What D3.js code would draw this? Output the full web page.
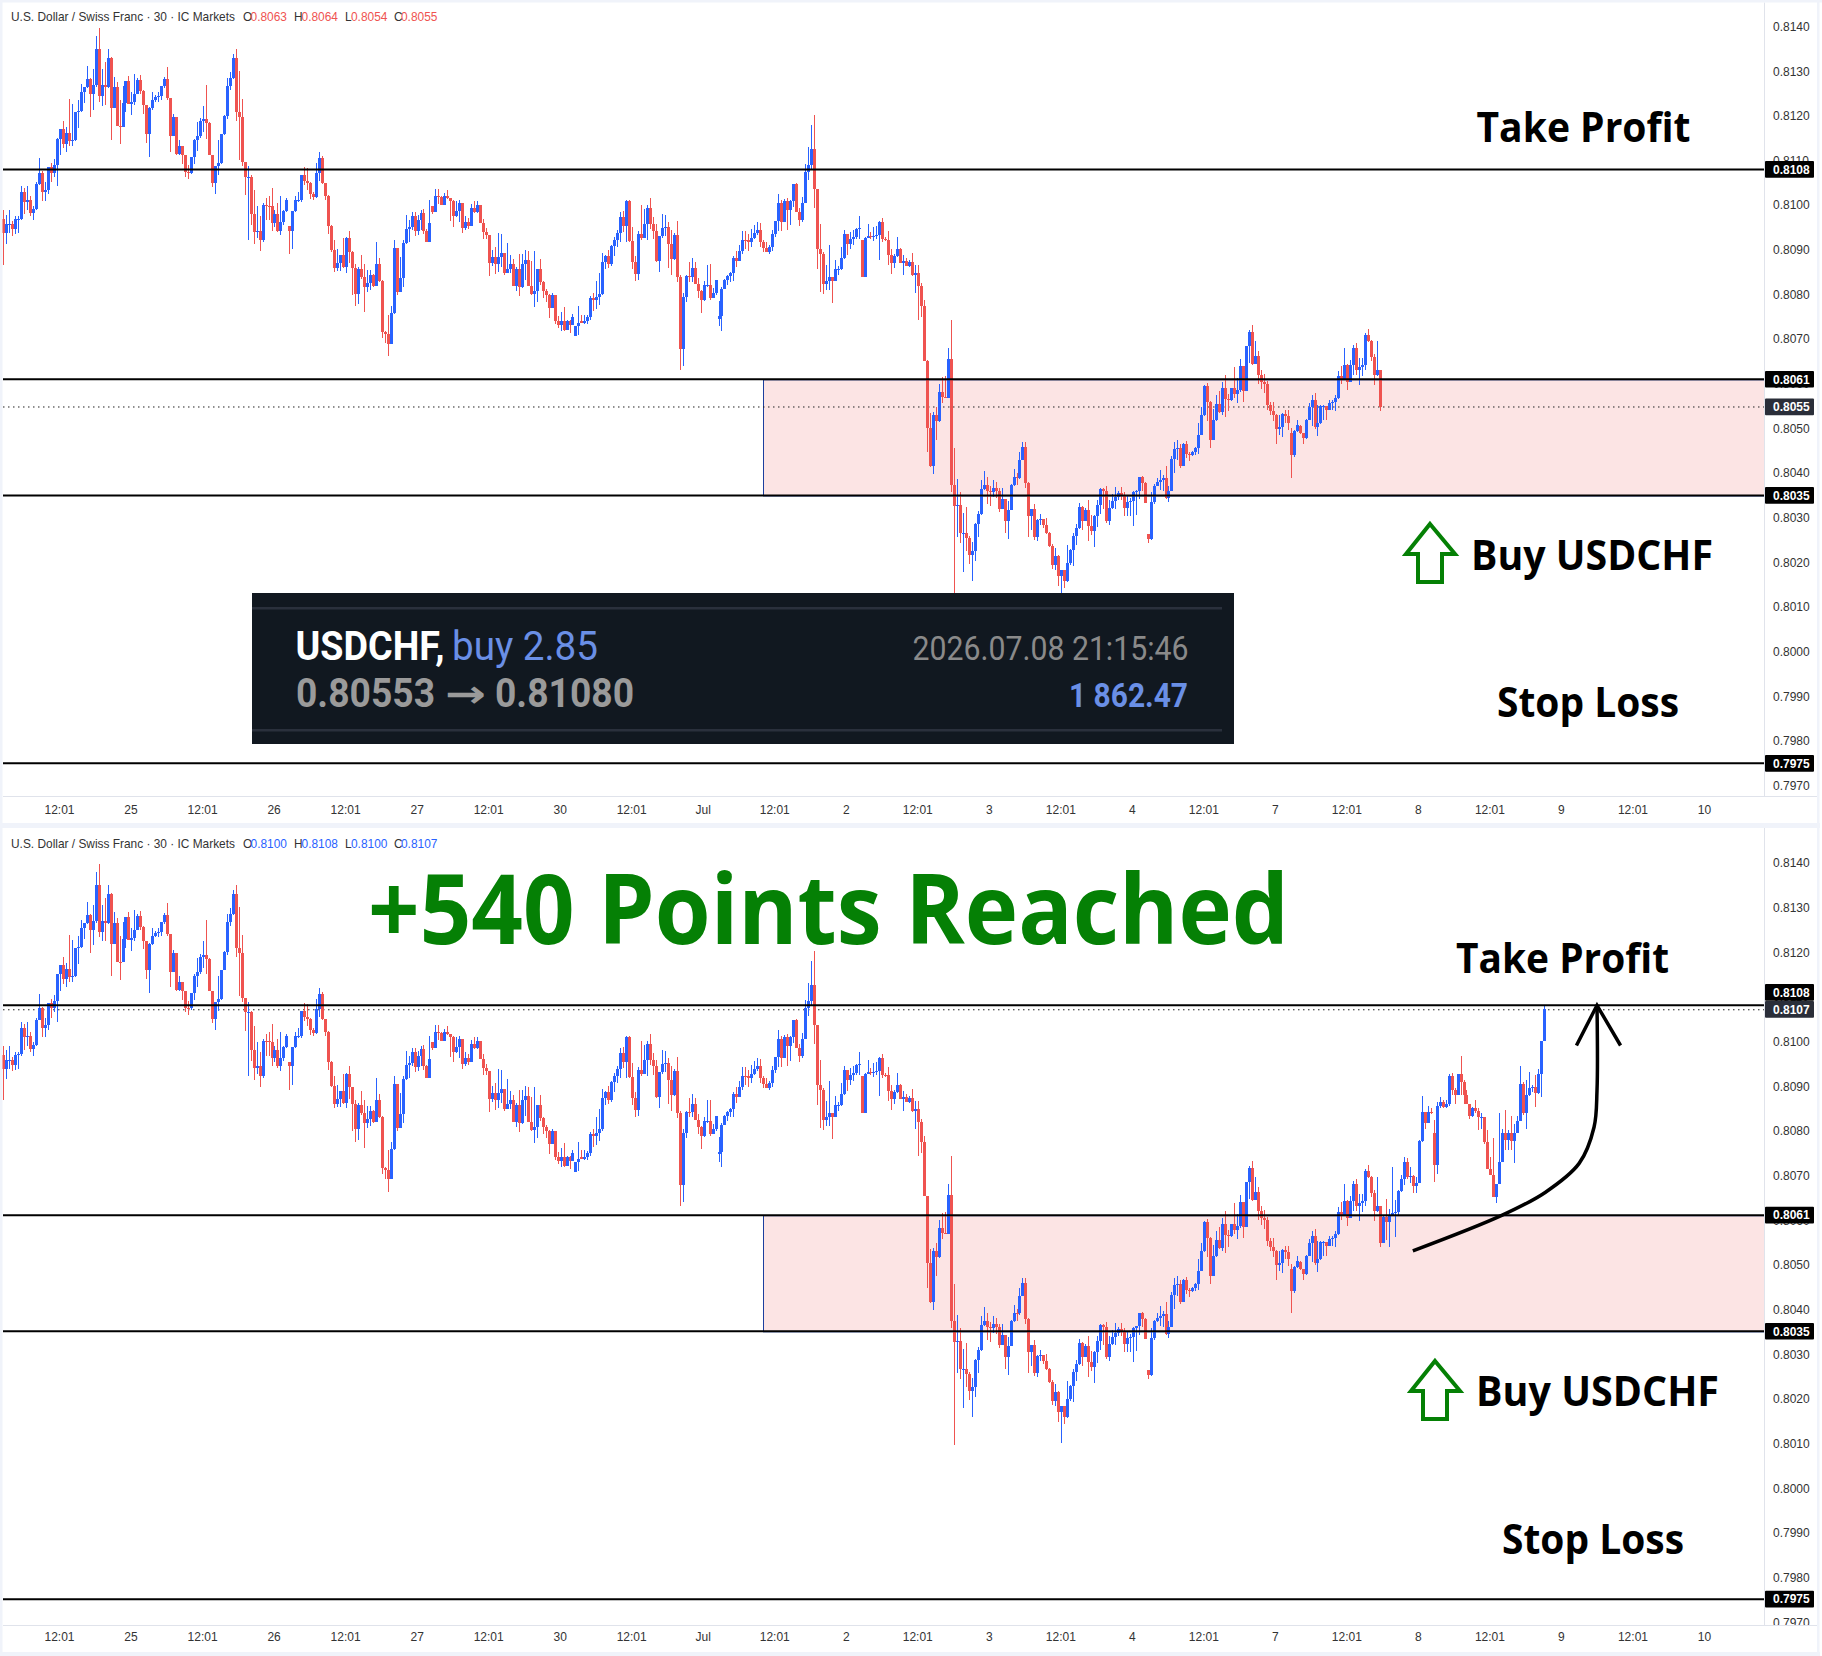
<!DOCTYPE html>
<html lang="en">
<head>
    <meta charset="UTF-8">
    <title>USDCHF - Take Profit reached</title>
    <script src="https://d3js.org/d3.v7.min.js"></script>
    <style>
        html, body {
            margin: 0;
            background: #fff;
        }
        svg {
            display: block;
        }
        .axis text {
            font-family: "Liberation Sans", Arial, sans-serif;
            font-size: 12px;
            fill: #333;
        }
        .big-label {
            font-family: "Open Sans", sans-serif;
            font-weight: 700;
            fill: #000;
        }
        .legend {
            font-family: "Liberation Sans", Arial, sans-serif;
            font-size: 11.9px;
        }
    </style>
</head>
<body>
    <svg id="chart" width="1822" height="1656"></svg>

    <script>
        // 30 min candles, prices x 10000: [close, high, low] and an open only where it
        // does not start at the previous close
        const barsA = [
            [8093.8,8099.0,8086.7,8096.9],[8095.8,8097.9,8091.4],[8095.8,8098.8,8093.8],[8094.7,8096.5,8093.2],[8096.9,8097.5,8093.5],[8097.0,8097.5,8093.8],
            [8103.0,8104.3,8096.6],[8100.8,8103.9,8098.1],[8101.1,8104.2,8098.8],[8098.2,8102.1,8097.5],[8099.1,8099.7,8096.7],[8104.8,8105.1,8098.8],
            [8107.3,8110.6,8104.6],[8102.9,8107.6,8101.0],[8103.5,8105.1,8101.0],[8108.6,8108.6,8102.5],[8107.3,8109.4,8105.2],[8109.0,8110.3,8106.4],
            [8114.9,8115.0,8104.3],[8117.1,8117.1,8111.3],[8113.8,8118.9,8112.8],[8116.2,8117.4,8112.0],[8114.3,8123.8,8113.3],[8114.6,8122.7,8113.3],
            [8120.9,8120.9,8114.3],[8121.1,8123.6,8117.3],[8125.4,8127.2,8120.9],[8126.4,8126.4,8122.9],[8128.2,8131.2,8126.2],[8124.9,8128.4,8119.8],
            [8126.9,8130.5,8121.4],[8135.0,8137.9,8126.4],[8124.5,8139.6,8123.2],[8126.9,8130.5,8122.3],[8126.4,8132.1,8122.4],[8133.0,8135.0,8126.2],
            [8121.8,8133.2,8114.6],[8126.5,8128.8,8122.0],[8117.8,8127.6,8117.8],[8117.6,8123.6,8113.7],[8122.9,8126.7,8117.6],[8127.8,8127.8,8120.9],
            [8122.7,8129.0,8122.7],[8123.1,8125.4,8120.2],[8124.9,8129.4,8122.5],[8128.1,8128.5,8124.9],[8125.6,8129.2,8124.9],[8122.5,8125.8,8120.5],
            [8116.0,8121.6,8114.0],[8121.8,8122.0,8110.8],[8123.6,8125.4,8121.4],[8124.3,8124.7,8123.2],[8124.5,8125.4,8123.2],[8126.7,8126.7,8123.6],
            [8128.3,8128.7,8126.3],[8124.0,8131.0,8123.6],[8115.5,8124.0,8112.0],[8119.7,8120.4,8115.4],[8111.5,8119.8,8111.3],[8113.3,8114.6,8111.3],
            [8111.3,8113.3,8109.3],[8107.5,8111.3,8106.4],[8107.3,8109.0,8105.9],[8110.8,8110.8,8107.0],[8114.6,8114.9,8109.3],[8115.4,8118.7,8112.2],
            [8118.9,8119.5,8115.0],[8119.3,8122.3,8116.4],[8118.3,8127.0,8114.9],[8111.3,8118.6,8111.3],[8105.0,8111.3,8104.1],[8108.8,8108.8,8102.4],
            [8109.5,8114.6,8106.8],[8116.0,8116.0,8109.3],[8120.0,8120.2,8115.8],[8126.7,8128.4,8119.3]
        ];
        const barsB = [
            [8128.4,8129.7,8125.8],[8132.9,8133.9,8128.2],[8120.9,8135.0,8118.9],[8119.8,8130.1,8110.0],[8109.7,8123.8,8108.8],[8106.4,8109.7,8102.3],
            [8106.4,8108.7,8092.2],[8098.1,8106.8,8095.6],[8093.9,8103.4,8091.3],[8094.3,8099.8,8092.6],[8092.2,8097.5,8089.8],[8100.1,8100.4,8091.7],
            [8099.9,8101.6,8096.7],[8099.8,8102.1,8096.7],[8096.1,8103.8,8094.3],[8098.1,8099.0,8095.2],[8094.3,8100.4,8093.9],[8096.2,8102.1,8093.4],
            [8098.7,8099.0,8095.6],[8101.2,8101.6,8098.4],[8094.3,8095.4,8089.1,8095.4],[8098.7,8098.7,8090.2],[8101.2,8102.1,8098.4],[8101.2,8103.0,8100.6],
            [8106.8,8106.8,8100.6],[8105.3,8108.6,8104.5],[8104.9,8108.4,8103.4],[8102.5,8105.2,8101.4],[8101.9,8103.0,8101.2],[8107.2,8109.5,8101.5],
            [8110.6,8111.9,8105.3],[8104.9,8111.0,8104.8],[8102.1,8105.0,8101.2],[8095.4,8102.3,8093.6],[8090.0,8095.6,8089.6],[8086.0,8092.2,8085.1],
            [8087.0,8090.2,8085.2],[8088.9,8088.9,8085.2],[8086.2,8092.7,8086.0],[8092.7,8092.9,8084.9],[8089.6,8094.3,8087.0],[8086.0,8089.8,8079.9],
            [8080.2,8086.9,8077.5],[8085.7,8086.2,8077.9],[8083.9,8088.9,8083.5],[8081.7,8086.9,8076.1],[8082.6,8085.5,8080.5],[8084.4,8085.5,8080.9],
            [8081.9,8084.6,8081.7],[8086.9,8091.8,8081.9],[8083.1,8088.2,8082.7],[8071.6,8083.3,8070.3],[8071.1,8071.9,8069.2],[8069.0,8075.5,8066.3],
            [8075.8,8077.5,8069.0],[8090.4,8092.2,8075.7],[8080.6,8090.4,8079.9],[8083.7,8088.4,8080.8],[8091.6,8092.2,8081.6],[8094.7,8097.8,8091.3],
            [8095.1,8096.7,8091.8],[8097.6,8098.4,8094.5],[8094.2,8098.4,8093.1],[8096.7,8097.8,8093.4],[8098.3,8099.0,8094.5],[8094.3,8099.2,8093.6],
            [8091.8,8094.7,8091.8],[8096.0,8101.2,8091.8],[8098.4,8099.8,8098.1,8099.8],[8102.1,8103.7,8098.5],[8101.9,8103.6,8100.3],[8100.1,8102.1,8100.1],
            [8102.1,8102.7,8100.3],[8101.5,8103.4,8101.3],[8100.9,8101.6,8096.4],[8097.6,8101.2,8095.2],[8098.7,8101.0,8097.3],[8100.5,8101.2,8096.3]
        ];
        const barsC = [
            [8094.9,8100.5,8093.8],[8096.3,8097.5,8094.4],[8095.4,8097.2,8094.6],[8099.3,8100.2,8095.4],[8098.4,8100.9,8098.3],[8100.0,8100.9,8098.3],
            [8096.0,8100.0,8096.0],[8094.0,8097.0,8092.4],[8093.3,8094.9,8092.4],[8087.0,8093.4,8084.1],[8088.3,8089.9,8086.4],[8086.8,8090.7,8084.6],
            [8088.3,8093.7,8085.0],[8089.2,8093.5,8086.1],[8084.8,8089.0,8084.3],[8085.8,8091.5,8084.8],[8086.8,8088.8,8084.8],[8081.9,8087.9,8081.9],
            [8085.7,8086.1,8080.8],[8081.7,8089.0,8079.6],[8086.8,8089.0,8081.4],[8087.7,8089.9,8083.2],[8081.9,8089.7,8081.9],[8080.1,8087.5,8079.9],
            [8080.7,8089.7,8077.2],[8085.7,8085.7,8078.3],[8082.8,8087.9,8082.1],[8080.8,8083.0,8079.2],[8079.9,8081.2,8078.3],[8077.0,8080.1,8074.7],
            [8079.9,8080.3,8077.0],[8074.1,8079.9,8073.4],[8073.1,8075.2,8072.5],[8074.0,8076.1,8071.8],[8072.0,8077.2,8071.8],[8074.0,8074.3,8072.0],
            [8073.1,8074.3,8071.4],[8074.9,8075.6,8073.1],[8072.9,8072.9,8070.7,8070.7],[8073.6,8077.4,8070.9],[8073.6,8075.5,8073.5,8074.0],[8074.0,8075.5,8073.4],
            [8075.0,8075.4,8073.4],[8079.2,8079.6,8074.3],[8078.7,8080.4,8076.3],[8079.4,8083.0,8076.7],[8080.2,8084.7,8077.6],[8087.2,8089.3,8079.9],
            [8088.6,8088.8,8085.7],[8086.8,8089.9,8085.9],[8090.8,8091.1,8086.4],[8092.2,8092.9,8088.6],[8093.7,8094.4,8090.6],[8097.3,8098.4,8091.7],
            [8095.3,8098.7,8094.0],[8100.9,8101.1,8091.7],[8091.9,8101.1,8091.7],[8087.2,8095.1,8085.7],[8084.6,8088.6,8083.0],[8093.5,8094.2,8083.2],
            [8092.6,8100.0,8092.2],[8095.8,8099.1,8092.6],[8099.3,8100.0,8092.2],[8095.8,8101.6,8094.6],[8094.3,8097.3,8092.4],[8087.5,8095.8,8087.2],
            [8093.1,8093.1,8085.0],[8094.9,8098.0,8092.6],[8095.1,8097.8,8093.1],[8091.3,8096.2,8085.9],[8087.9,8094.4,8084.3],[8093.3,8093.7,8087.7],
            [8083.9,8096.4,8082.8],[8067.8,8084.3,8063.1],[8079.4,8080.3,8064.0],[8084.1,8084.3,8078.3]
        ];
        const barsD = [
            [8084.0,8087.3,8082.9],[8085.9,8088.1,8082.9],[8082.4,8087.3,8082.4],[8080.8,8083.6,8079.2],[8078.8,8080.9,8075.8],[8082.1,8083.0,8078.5],
            [8082.1,8086.7,8081.7],[8079.1,8086.8,8078.8],[8080.3,8081.4,8079.1],[8083.2,8083.2,8079.9],[8075.1,8078.5,8073.0,8074.6],[8081.2,8081.7,8071.8],
            [8083.2,8083.5,8081.5],[8084.1,8084.4,8082.1],[8084.8,8085.1,8082.9],[8088.1,8088.5,8083.0],[8087.5,8089.7,8086.1],[8089.7,8091.1,8087.6],
            [8092.2,8094.2,8089.1],[8092.1,8094.1,8090.2],[8091.7,8093.5,8089.7],[8092.6,8094.6,8090.6],[8093.7,8095.5,8092.4],[8094.4,8096.2,8093.3],
            [8091.7,8096.0,8090.6],[8090.4,8092.2,8089.5],[8089.5,8091.7,8089.5],[8090.6,8091.1,8089.1],[8093.5,8094.4,8089.7],[8096.4,8096.4,8092.9],
            [8100.5,8102.5,8094.2],[8096.2,8101.1,8094.2],[8100.9,8101.4,8096.4],[8098.9,8101.5,8094.4],[8100.9,8101.1,8095.5],[8104.7,8104.7,8099.6],
            [8098.5,8105.0,8098.5],[8096.7,8099.3,8095.3],[8100.5,8101.8,8096.2],[8107.4,8109.2,8100.7],[8109.0,8113.0,8105.6],[8112.6,8117.9,8107.9],
            [8103.6,8120.2,8099.3],[8090.2,8103.6,8085.7],[8089.1,8095.8,8080.5],[8082.3,8089.5,8080.1],[8083.0,8086.6,8081.0],[8083.9,8091.1,8081.0],
            [8083.0,8083.9,8078.1],[8085.7,8087.7,8083.2],[8085.7,8086.4,8084.4],[8088.2,8090.6,8085.5],[8093.5,8094.4,8087.9],[8091.3,8093.5,8088.8],
            [8092.4,8094.0,8090.2],[8092.9,8094.4,8091.1],[8094.6,8094.9,8092.4],[8094.8,8097.6,8092.4],[8083.9,8092.2,8083.9,8092.2],[8092.6,8092.9,8083.8],
            [8093.0,8095.8,8092.6],[8092.9,8094.0,8092.4],[8093.1,8095.1,8092.0],[8093.3,8095.3,8092.4],[8096.2,8096.4,8087.7],[8092.4,8097.1,8091.7],
            [8092.3,8092.9,8092.0],[8088.8,8094.2,8086.6],[8087.0,8090.2,8084.6],[8088.6,8089.1,8086.0],[8090.2,8092.9,8088.4],[8087.0,8090.4,8087.0],
            [8087.5,8088.8,8084.4],[8086.4,8088.2,8086.4],[8087.3,8087.7,8086.1],[8084.4,8089.3,8084.1],[8084.8,8086.6,8080.3],[8081.9,8086.6,8074.3]
        ];
        const barsE = [
            [8077.4,8082.5,8075.0],[8065.2,8078.8,8065.2],[8050.2,8065.3,8044.8],[8041.6,8053.4,8041.4],[8053.0,8053.7,8039.8],[8051.7,8054.8,8047.4],
            [8058.1,8059.9,8051.4],[8057.0,8061.5,8055.7],[8056.9,8061.7,8056.9],[8065.5,8068.0,8056.9],[8037.3,8074.3,8035.8],[8032.6,8045.6,8009.6],
            [8032.9,8038.7,8025.7],[8026.6,8035.8,8024.4],[8026.6,8031.1,8017.9],[8025.5,8032.4,8022.6],[8021.7,8025.9,8019.7],[8022.6,8024.6,8015.8],
            [8028.6,8028.8,8020.3],[8030.8,8031.5,8025.7],[8036.4,8038.5,8030.6],[8037.3,8040.5,8036.2],[8036.0,8039.1,8033.1],[8035.8,8037.1,8032.6],
            [8036.7,8038.5,8034.6],[8036.0,8038.0,8034.4],[8032.0,8036.7,8031.3],[8034.2,8036.7,8032.0],[8029.3,8032.4,8026.6],[8031.7,8033.8,8025.2],
            [8037.3,8037.6,8031.7],[8039.1,8040.9,8037.1],[8039.0,8040.0,8037.3],[8042.9,8044.7,8038.7],[8045.8,8047.0,8042.9],[8037.8,8047.0,8036.7],
            [8030.4,8038.0,8025.7],[8032.0,8032.0,8027.3],[8025.7,8033.1,8025.0],[8029.5,8029.7,8024.8],[8029.7,8030.8,8028.4],[8028.4,8029.7,8027.7],
            [8026.6,8030.0,8026.4],[8023.7,8026.8,8023.5],[8019.4,8024.1,8018.5],[8021.4,8023.2,8018.3],[8017.0,8021.7,8014.7],[8018.3,8018.3,8010.1],
            [8015.8,8018.3,8014.3],[8019.9,8023.9,8015.6],[8022.8,8023.0,8019.4],[8025.9,8026.6,8019.2],[8027.7,8028.6,8023.9],[8032.4,8033.3,8027.5],
            [8029.3,8032.6,8027.3],[8031.7,8032.2,8029.3],[8028.2,8034.0,8024.8],[8027.0,8030.6,8026.1],[8030.4,8030.6,8023.5],[8032.9,8034.0,8027.9],
            [8036.4,8036.7,8030.8],[8036.0,8036.7,8032.0],[8029.3,8037.1,8028.8],[8032.2,8034.0,8028.4],[8033.8,8035.3,8032.0],[8034.6,8036.9,8032.0],
            [8035.5,8036.0,8034.0],[8034.9,8036.9,8034.0],[8032.2,8035.8,8030.4],[8033.5,8034.9,8030.4],[8033.7,8034.4,8030.4],[8035.8,8036.0,8028.2],
            [8036.1,8036.2,8030.6],[8039.1,8039.1,8034.2],[8037.8,8039.3,8036.0],[8033.3,8038.0,8033.3],[8025.3,8026.4,8024.4,8026.4]
        ];
        const barsF = [
            [8033.6,8035.8,8025.1],[8037.2,8037.6,8033.1],[8038.0,8039.0,8037.0],[8038.5,8040.7,8036.3],[8038.9,8039.6,8036.0],[8034.5,8041.6,8034.2],
            [8036.0,8037.2,8033.6],[8043.2,8043.9,8036.0],[8045.4,8047.0,8040.1],[8045.6,8047.4,8043.0],[8041.6,8046.5,8041.2],[8046.5,8046.8,8041.6],
            [8044.3,8047.2,8043.4],[8044.1,8044.8,8042.7],[8044.8,8045.0,8043.9],[8045.6,8045.9,8044.1],[8048.6,8051.3,8044.3],[8053.0,8054.8,8048.6],
            [8059.5,8059.8,8052.8],[8055.9,8060.2,8051.7],[8047.4,8056.2,8045.6],[8051.9,8054.4,8047.4],[8055.5,8057.5,8051.7],[8053.7,8058.4,8053.5],
            [8059.1,8060.4,8053.0],[8056.6,8062.0,8052.6],[8056.4,8057.7,8053.9],[8059.1,8059.1,8056.2],[8057.7,8063.8,8056.8],[8058.6,8061.3,8055.7],
            [8064.0,8065.6,8058.2],[8058.4,8063.8,8056.0],[8068.5,8068.5,8058.4],[8071.6,8072.1,8064.7],[8064.5,8073.2,8064.2],[8066.2,8069.6,8064.5],
            [8062.0,8067.4,8060.0],[8060.4,8063.1,8058.8],[8060.0,8062.2,8058.0],[8055.3,8060.6,8054.2],[8053.9,8055.9,8052.9],[8053.0,8055.9,8051.7],
            [8049.9,8053.3,8046.5],[8050.4,8053.0,8048.6],[8053.3,8053.5,8048.1],[8052.8,8054.2,8051.2],[8051.2,8054.2,8049.7],[8044.1,8050.1,8039.0,8049.0],
            [8049.5,8049.7,8043.6],[8050.8,8051.9,8049.2],[8049.0,8050.8,8048.8,8050.6],[8047.9,8049.0,8046.5],[8051.9,8052.1,8047.7],[8054.8,8055.7,8051.9],
            [8056.4,8057.5,8050.6],[8050.4,8058.0,8049.9],[8051.2,8055.3,8048.3],[8055.0,8055.3,8051.0],[8055.0,8055.3,8051.9],[8054.2,8055.0,8051.9],
            [8055.7,8056.4,8054.2],[8056.0,8056.4,8054.2],[8056.8,8057.5,8053.9],[8061.8,8062.9,8056.6],[8060.9,8064.0,8060.0],[8064.2,8068.0,8060.9],
            [8060.4,8064.5,8058.6],[8064.2,8065.3,8060.4],[8068.0,8068.7,8062.0],[8063.1,8069.2,8062.0],[8063.8,8065.8,8059.8],[8064.2,8065.8,8061.8],
            [8070.9,8071.4,8063.1],[8069.6,8072.3,8069.4],[8066.0,8069.8,8065.1],[8062.0,8066.7,8059.8],[8063.1,8069.6,8061.8],[8054.8,8062.9,8053.9]
        ];
        // only in the lower panel
        const barsG = [
            [8060.6,8060.8,8054.7],[8059.5,8064.6,8055.4],[8060.8,8062.5,8053.9],[8061.5,8071.8,8061.0],[8061.7,8064.4,8056.2],[8066.4,8066.6,8061.0],
            [8069.0,8070.0,8066.2],[8072.9,8074.1,8067.7],[8069.6,8073.8,8069.2],[8069.7,8071.8,8068.1],[8067.6,8069.9,8065.9],[8068.2,8069.6,8065.9],
            [8077.6,8077.8,8068.1],[8084.1,8087.6,8077.4],[8081.7,8084.1,8080.2],[8084.2,8085.4,8081.9],[8084.1,8084.9,8083.6],[8072.2,8082.4,8068.5,8079.5],
            [8085.4,8086.4,8070.3],[8086.4,8087.5,8085.1],[8085.2,8086.9,8084.9],[8085.8,8086.7,8085.1],[8092.1,8092.6,8085.4],[8089.0,8092.9,8087.9],
            [8087.9,8089.5,8085.8],[8092.6,8092.6,8087.9],[8090.8,8096.6,8087.9],[8087.9,8091.2,8086.0],[8085.8,8089.1,8085.8],[8083.2,8085.8,8082.6],
            [8084.9,8085.2,8082.9],[8084.4,8086.9,8083.8],[8082.9,8084.9,8080.0],[8083.0,8083.8,8080.4],[8077.4,8083.0,8076.9],[8071.4,8080.0,8071.4],
            [8070.1,8074.1,8070.0],[8065.1,8078.2,8065.1],[8067.9,8068.0,8063.8],[8072.9,8083.8,8067.9],[8079.5,8080.4,8072.9],[8077.9,8084.5,8075.5],
            [8079.5,8080.0,8075.5],[8077.6,8083.2,8075.5],[8079.5,8081.5,8072.7],[8082.0,8083.2,8079.3],[8090.3,8094.3,8082.0],[8083.9,8090.8,8083.4],
            [8087.9,8091.2,8080.3],[8089.5,8093.1,8087.7],[8089.6,8090.1,8088.6],[8088.4,8092.3,8085.2],[8092.6,8093.7,8088.1],[8099.9,8099.9,8087.5],
            [8107.1,8108.0,8099.9]
        ];

        const priceTicks = [8140, 8130, 8120, 8110, 8100, 8090, 8080, 8070, 8060, 8050, 8040, 8030, 8020, 8010, 8000, 7990, 7980, 7970];
        const timeLabels = ["12:01", "25", "12:01", "26", "12:01", "27", "12:01", "30", "12:01", "Jul", "12:01", "2",
                            "12:01", "3", "12:01", "4", "12:01", "7", "12:01", "8", "12:01", "9", "12:01", "10"];
        // bar number of every time label, one label per 24 bars
        const timeBars = timeLabels.map((d, i) => 19.7 + 24 * i);
        const levels = [8108, 8061, 8035, 7975];

        const upperBars = barsA.concat(barsB, barsC, barsD, barsE, barsF);
        const lowerBars = upperBars.concat(barsG);

        const headerLetters = ["O", "H", "L", "C"];
        const headerUpper = ["0.8063", "0.8064", "0.8054", "0.8055"];
        const headerLower = ["0.8100", "0.8108", "0.8100", "0.8107"];

        // curved arrow in the lower panel: bar number, price
        const arrowCurve = [[474, 8053.0], [504, 8061.0], [518.4, 8066.1], [529.8, 8072.6], [534.8, 8080.7], [535.8, 8088.9], [535.8, 8108]];
        const arrowHead = [[528.9, 8099], [535.8, 8108], [543.7, 8099]];

        const blue = "#2962ff",
              red = "#ef5350",
              frame = "#f0f3fa",
              axisLine = "#e0e3eb",
              black = "#000",
              green = "#058005";

        const axisX = 1765,
              left = 3,
              right = 1817;

        const svg = d3.select("#chart");

        svg.append("rect").attr("width", 1822).attr("height", 1656).attr("fill", "#fff");

        const x = d3.scaleLinear()
            .domain([1, 518])
            .range([3.3, 3.3 + 2.98 * 517]);

        function drawPanel(panel) {
            const y = d3.scaleLinear()
                .domain([8140, 7970])
                .range([panel.top, panel.top + 759.2]);

            const g = svg.append("g");

            // zone
            g.append("rect")
                .attr("x", 763.5)
                .attr("y", y(8061) + 0.5)
                .attr("width", axisX - 763.5)
                .attr("height", y(8035) - y(8061))
                .attr("fill", "#fce4e4")
                .attr("stroke", "#1c3f9e")
                .attr("stroke-width", 1);

            g.append("line")
                .attr("x1", left).attr("x2", axisX)
                .attr("y1", y(panel.current)).attr("y2", y(panel.current))
                .attr("stroke", "#222")
                .attr("stroke-width", 1)
                .attr("stroke-dasharray", "1.5 3.5");

            // candles
            let prevClose = null;
            const candles = panel.bars.map(d => {
                const open = d[3] !== undefined ? d[3] : prevClose;
                prevClose = d[0];
                return {open: open, close: d[0], high: d[1], low: d[2]};
            });

            const candle = g.selectAll(".candle")
                .data(candles)
                .enter()
                .append("g")
                .attr("class", "candle")
                .attr("fill", d => d.close >= d.open ? blue : red)
                .attr("shape-rendering", "crispEdges");

            candle.append("rect")
                .attr("x", (d, i) => Math.round(x(i + 1)))
                .attr("y", d => y(d.high))
                .attr("width", 1)
                .attr("height", d => Math.max(1, y(d.low) - y(d.high)));

            candle.append("rect")
                .attr("x", (d, i) => Math.round(x(i + 1)) - 1)
                .attr("y", d => y(Math.max(d.open, d.close)))
                .attr("width", 3)
                .attr("height", d => Math.max(1, Math.abs(y(d.open) - y(d.close))));

            g.selectAll(".level")
                .data(levels)
                .enter()
                .append("line")
                .attr("class", "level")
                .attr("x1", left).attr("x2", axisX)
                .attr("y1", d => y(d)).attr("y2", d => y(d))
                .attr("stroke", black)
                .attr("stroke-width", 2);

            // right price axis
            g.append("rect")
                .attr("x", axisX)
                .attr("y", panel.frameTop)
                .attr("width", right - axisX)
                .attr("height", panel.timeY - panel.frameTop)
                .attr("fill", "#fff");
            g.append("line")
                .attr("x1", axisX - 0.5).attr("x2", axisX - 0.5)
                .attr("y1", panel.frameTop).attr("y2", panel.timeY + 27)
                .attr("stroke", axisLine);

            g.append("g")
                .attr("class", "axis")
                .attr("transform", `translate(${axisX + 8},${panel.tickShift})`)
                .call(d3.axisRight(y)
                    .tickValues(priceTicks)
                    .tickSize(0)
                    .tickPadding(0)
                    .tickFormat(d => (d / 10000).toFixed(4)))
                .select(".domain").remove();

            // time axis
            g.append("rect").attr("x", left).attr("y", panel.timeY).attr("width", right - left).attr("height", 27).attr("fill", "#fff");
            g.append("line")
                .attr("x1", left).attr("x2", right)
                .attr("y1", panel.timeY + 0.5).attr("y2", panel.timeY + 0.5)
                .attr("stroke", axisLine);

            g.append("g")
                .attr("class", "axis")
                .attr("transform", `translate(0,${panel.timeY + panel.timePad})`)
                .call(d3.axisBottom(x)
                    .tickValues(timeBars)
                    .tickSize(0)
                    .tickPadding(0)
                    .tickFormat((d, i) => timeLabels[i]))
                .select(".domain").remove();

            // header
            const legend = g.append("text")
                .attr("class", "legend")
                .attr("y", panel.headerY);
            legend.append("tspan").attr("x", 11).attr("fill", "#333").text("U.S. Dollar / Swiss Franc · 30 · IC Markets");
            const letterX = [243, 294, 345, 394];
            const valueX = [250.6, 301.6, 351, 401];
            headerLetters.forEach((l, i) => {
                legend.append("tspan").attr("x", letterX[i]).attr("fill", "#333").text(l);
                legend.append("tspan").attr("x", valueX[i]).attr("fill", panel.color).text(panel.header[i]);
            });

            return y;
        }

        function priceTag(y, label, fill) {
            svg.append("rect")
                .attr("x", axisX)
                .attr("y", y)
                .attr("width", 49)
                .attr("height", 16.7)
                .attr("rx", 1)
                .attr("fill", fill);
            svg.append("text")
                .attr("x", axisX + 8)
                .attr("y", y + 12.6)
                .attr("font-family", "Liberation Sans, Arial, sans-serif")
                .attr("font-size", 12)
                .attr("font-weight", 700)
                .attr("fill", "#fff")
                .text(label);
        }

        function bigLabel(text, xPos, baseline, size, width, color) {
            svg.append("text")
                .attr("class", "big-label")
                .attr("x", xPos)
                .attr("y", baseline)
                .attr("font-size", size)
                .attr("textLength", width)
                .attr("lengthAdjust", "spacingAndGlyphs")
                .style("fill", color || black)
                .text(text);
        }

        function upArrow(xPos, yPos) {
            svg.append("path")
                .attr("transform", `translate(${xPos},${yPos})`)
                .attr("d", "M26,2 L51,32 L38,32 L38,60 L14,60 L14,32 L2,32 Z")
                .attr("fill", "#fff")
                .attr("stroke", green)
                .attr("stroke-width", 4);
        }

        const yUpper = drawPanel({top: 26.5, frameTop: 2.5, timeY: 796, timePad: 9, tickShift: 0, bars: upperBars,
                                  current: 8054.8, header: headerUpper, color: red, headerY: 21});
        const yLower = drawPanel({top: 862.4, frameTop: 828, timeY: 1625, timePad: 7, tickShift: 0.6, bars: lowerBars,
                                  current: 8107, header: headerLower, color: blue, headerY: 848});

        // frame bands
        svg.append("rect").attr("x", 0).attr("y", 0).attr("width", 1822).attr("height", 2.5).attr("fill", frame);
        svg.append("rect").attr("x", 0).attr("y", 0).attr("width", 2.5).attr("height", 1656).attr("fill", frame);
        svg.append("rect").attr("x", 0).attr("y", 823).attr("width", 1820).attr("height", 5).attr("fill", frame);
        svg.append("rect").attr("x", 0).attr("y", 1652).attr("width", 1820).attr("height", 4).attr("fill", frame);
        svg.append("rect").attr("x", 1817).attr("y", 0).attr("width", 2.5).attr("height", 1656).attr("fill", frame);

        // price tags
        priceTag(yUpper(8108) - 8.4, "0.8108", black);
        priceTag(yUpper(8061) - 8.4, "0.8061", black);
        priceTag(yUpper(8054.8) - 8.4, "0.8055", "#2a2e39");
        priceTag(yUpper(8035) - 8.4, "0.8035", black);
        priceTag(yUpper(7975) - 8.4, "0.7975", black);

        priceTag(984, "0.8108", black);
        priceTag(1001, "0.8107", "#2a2e39");
        priceTag(yLower(8061) - 8.4, "0.8061", black);
        priceTag(yLower(8035) - 8.4, "0.8035", black);
        priceTag(yLower(7975) - 8.4, "0.7975", black);

        // result box
        svg.append("rect").attr("x", 252).attr("y", 593).attr("width", 982).attr("height", 151).attr("fill", "#111820");
        svg.append("rect").attr("x", 252).attr("y", 607).attr("width", 970).attr("height", 2.5).attr("fill", "#2a303c");
        svg.append("rect").attr("x", 252).attr("y", 729).attr("width", 970).attr("height", 2.5).attr("fill", "#2a303c");

        function boxText(text, xPos, baseline, size, weight, color, width, family) {
            svg.append("text")
                .attr("x", xPos)
                .attr("y", baseline)
                .attr("font-family", family || "Roboto, sans-serif")
                .attr("font-size", size)
                .attr("font-weight", weight)
                .attr("fill", color)
                .attr("textLength", width)
                .attr("lengthAdjust", "spacingAndGlyphs")
                .text(text);
        }

        boxText("USDCHF,", 295.5, 660, 41, 700, "#fff", 149);
        boxText("buy 2.85", 452, 660, 41, 400, "#6a8fe6", 146);
        boxText("0.80553", 296, 707, 41, 700, "#9a9a9a", 139);
        boxText("→", 445, 707, 38, 700, "#9a9a9a", 41, "DejaVu Sans");
        boxText("0.81080", 495, 707, 41, 700, "#9a9a9a", 139);
        boxText("2026.07.08 21:15:46", 912.5, 660, 34, 400, "#8a8a8a", 276);
        boxText("1 862.47", 1069, 707, 34, 700, "#6a8fe6", 119);

        // big labels, upper
        bigLabel("Take Profit", 1476.5, 141.5, 42, 214);
        bigLabel("Buy USDCHF", 1471, 570, 42, 242);
        bigLabel("Stop Loss", 1497, 716.5, 42, 182);
        upArrow(1404, 522);

        // big labels, lower
        bigLabel("Take Profit", 1456, 972.7, 42, 213);
        bigLabel("Buy USDCHF", 1476, 1406, 42, 243);
        bigLabel("Stop Loss", 1502, 1554, 42, 182);
        bigLabel("+540 Points Reached", 368, 944, 96, 921, green);
        upArrow(1409, 1359);

        // curved arrow
        const arrowLine = d3.line()
            .x(d => x(d[0]))
            .y(d => yLower(d[1]))
            .curve(d3.curveCatmullRom);

        svg.append("path")
            .attr("d", arrowLine(arrowCurve))
            .attr("fill", "none")
            .attr("stroke", black)
            .attr("stroke-width", 3.5);

        svg.append("path")
            .attr("d", d3.line().x(d => x(d[0])).y(d => yLower(d[1]))(arrowHead))
            .attr("fill", "none")
            .attr("stroke", black)
            .attr("stroke-width", 3.5);
    </script>
</body>
</html>
